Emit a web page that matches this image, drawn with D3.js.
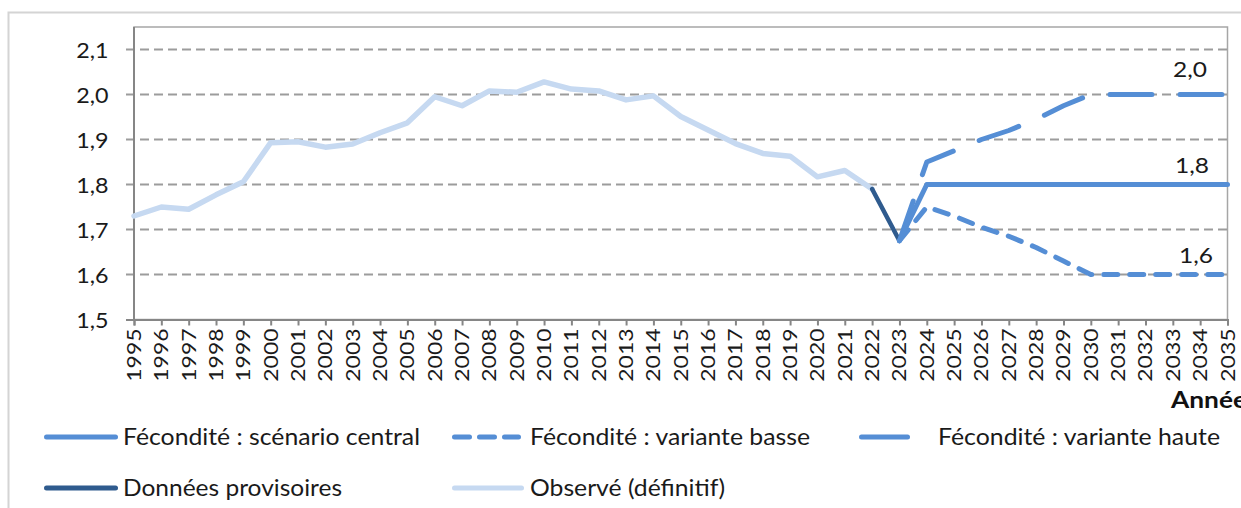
<!DOCTYPE html>
<html>
<head>
<meta charset="utf-8">
<script src="https://cdn.jsdelivr.net/npm/d3@7"></script>
<style>
  body { margin: 0; background: #fff; }
  svg { display: block; font-family: Lato, 'Open Sans', sans-serif; }
</style>
</head>
<body>
<div id="chart"></div>
<script>
// data
const years = d3.range(1995, 2036)
const observedYears = d3.range(1995, 2023)
const observed = [1.73, 1.75, 1.745, 1.777, 1.806, 1.893, 1.895, 1.883, 1.89, 1.915, 1.937, 1.995,
  1.975, 2.008, 2.005, 2.028, 2.012, 2.008, 1.988, 1.997, 1.951, 1.921, 1.891, 1.869, 1.863, 1.817, 1.831, 1.79]
const provisoireYears = [2022, 2023]
const provisoire = [1.79, 1.675]
const projYears = d3.range(2023, 2036)
const central = [1.675, 1.8, 1.8, 1.8, 1.8, 1.8, 1.8, 1.8, 1.8, 1.8, 1.8, 1.8, 1.8]
const basse = [1.675, 1.75, 1.73, 1.705, 1.685, 1.66, 1.63, 1.6, 1.6, 1.6, 1.6, 1.6, 1.6]
const haute = [1.675, 1.85, 1.875, 1.9, 1.92, 1.945, 1.975, 2.0, 2.0, 2.0, 2.0, 2.0, 2.0]
const yTicks = [1.5, 1.6, 1.7, 1.8, 1.9, 2.0, 2.1]
const endLabels = [
  { value: 2.0, text: '2,0' },
  { value: 1.8, text: '1,8' },
  { value: 1.6, text: '1,6' }
]
const legendItems = [
  { key: 'central', label: 'Fécondité : scénario central' },
  { key: 'basse', label: 'Fécondité : variante basse' },
  { key: 'haute', label: 'Fécondité : variante haute' },
  { key: 'provisoire', label: 'Données provisoires' },
  { key: 'observed', label: 'Observé (définitif)' }
]

const width = 1241
const height = 508
const margin = { top: 27, left: 134, right: 13.5, bottom: 188.5 }

const blue = '#558ed5'
const styles = {
  observed: { color: '#c6d9f1', width: 5.5, dash: null },
  provisoire: { color: '#2f5b8e', width: 4.5, dash: null },
  central: { color: blue, width: 5, dash: null },
  basse: { color: blue, width: 5, dash: '14 12' },
  haute: { color: blue, width: 5, dash: '42 28' }
}

let svg = d3
  .select('#chart')
  .append('svg')
  .attr('width', width)
  .attr('height', height)

// chart area frame
svg
  .append('rect')
  .attr('x', 8.5)
  .attr('y', 12.5)
  .attr('width', 1400)
  .attr('height', 700)
  .attr('fill', 'none')
  .attr('stroke', '#d4d4d4')
  .attr('stroke-width', 2)

let x = d3.scaleLinear().domain([1995, 2035]).range([margin.left, width - margin.right])
let y = d3.scaleLinear().domain([1.5, 2.1]).range([height - margin.bottom, 49.5])

// plot area border
svg
  .append('rect')
  .attr('x', margin.left)
  .attr('y', margin.top)
  .attr('width', x(2035) - margin.left)
  .attr('height', y(1.5) - margin.top)
  .attr('fill', 'none')
  .attr('stroke', '#a6a6a6')
  .attr('stroke-width', 1.5)

// gridlines
svg
  .selectAll('.grid')
  .data(yTicks.filter(d => d > 1.5))
  .enter()
  .append('line')
  .attr('class', 'grid')
  .attr('x1', margin.left - 8)
  .attr('x2', x(2035))
  .attr('y1', d => y(d))
  .attr('y2', d => y(d))
  .attr('stroke', '#9c9c9c')
  .attr('stroke-width', 2)
  .attr('stroke-dasharray', '9 5')

// y axis
let yAxis = svg
  .append('g')
  .attr('transform', `translate(${margin.left},0)`)
  .call(d3.axisLeft(y).tickValues(yTicks).tickSize(8).tickPadding(16)
    .tickFormat(d => d3.format('.1f')(d).replace('.', ',')))
yAxis.select('.domain').attr('stroke', '#868686').attr('stroke-width', 2)
  .attr('d', `M0,${margin.top}V${y(1.5)}`)
yAxis.selectAll('.tick line').attr('stroke', d => d === 1.5 ? '#868686' : 'none').attr('stroke-width', 2)
yAxis.selectAll('.tick text')
  .attr('font-family', 'Lato, sans-serif')
  .attr('font-size', 22)
  .attr('fill', '#1a1a1a')
  .attr('dy', '0.36em')
  .attr('transform', 'scale(1.06,1)')

// x axis
let xAxis = svg
  .append('g')
  .attr('transform', `translate(0,${y(1.5)})`)
  .call(d3.axisBottom(x).tickValues(years).tickSize(6).tickFormat(d3.format('d')))
xAxis.select('.domain').attr('stroke', '#868686').attr('stroke-width', 2)
xAxis.selectAll('.tick line').attr('stroke', '#868686').attr('stroke-width', 2)
xAxis.selectAll('.tick text')
  .attr('font-family', 'Lato, sans-serif')
  .attr('font-size', 18.5)
  .attr('fill', '#1a1a1a')
  .attr('text-anchor', 'end')
  .attr('dy', null)
  .attr('y', 0)
  .attr('transform', 'translate(6.5,9) rotate(-90) scale(1.24,1)')

svg
  .append('text')
  .text('Année')
  .attr('x', 1171)
  .attr('y', 408)
  .attr('font-weight', 'bold')
  .attr('font-size', 22)
  .attr('textLength', 76)
  .attr('lengthAdjust', 'spacingAndGlyphs')
  .attr('fill', '#111')

// series
let line = d3.line().x(d => x(d[0])).y(d => y(d[1]))

let series = [
  { key: 'observed', points: d3.zip(observedYears, observed) },
  { key: 'provisoire', points: d3.zip(provisoireYears, provisoire) },
  { key: 'basse', points: d3.zip(projYears, basse) },
  { key: 'haute', points: d3.zip(projYears, haute) },
  { key: 'central', points: d3.zip(projYears, central) }
]

svg
  .selectAll('.series')
  .data(series)
  .enter()
  .append('path')
  .attr('class', 'series')
  .attr('d', d => line(d.points))
  .attr('fill', 'none')
  .attr('stroke', d => styles[d.key].color)
  .attr('stroke-width', d => styles[d.key].width)
  .attr('stroke-dasharray', d => styles[d.key].dash)
  .attr('stroke-linecap', 'round')
  .attr('stroke-linejoin', 'round')

// end labels
svg
  .selectAll('.end-label')
  .data(endLabels)
  .enter()
  .append('text')
  .attr('class', 'end-label')
  .text(d => d.text)
  .attr('x', d => d.value === 1.6 ? 1213 : (d.value === 2.0 ? 1207 : 1209))
  .attr('y', d => y(d.value) - (d.value === 2.0 ? 18 : 12))
  .attr('text-anchor', 'end')
  .attr('font-size', 22)
  .attr('textLength', 34)
  .attr('lengthAdjust', 'spacingAndGlyphs')
  .attr('fill', '#1a1a1a')

// legend
let legendPos = [
  { lx: 44, lw: 74, tx: 123, ty: 437, tw: 297 },
  { lx: 452, lw: 69, tx: 530, ty: 437, tw: 280 },
  { lx: 859, lw: 51, tx: 938, ty: 437, tw: 282 },
  { lx: 44, lw: 74, tx: 123, ty: 488, tw: 219 },
  { lx: 452, lw: 72, tx: 530, ty: 488, tw: 195 }
]

let legend = svg
  .selectAll('.legend-entry')
  .data(legendItems)
  .enter()
  .append('g')
  .attr('class', 'legend-entry')
  .each(function(d, i) {
    let g = d3.select(this)
    let p = legendPos[i]
    let s = styles[d.key]
    g.append('line')
      .attr('x1', p.lx + 2.5)
      .attr('x2', p.lx + p.lw - 2.5)
      .attr('y1', p.ty)
      .attr('y2', p.ty)
      .attr('stroke', s.color)
      .attr('stroke-width', 5)
      .attr('stroke-linecap', 'round')
      .attr('stroke-dasharray', d.key === 'basse' ? '15 10' : null)
    g.append('text')
      .text(d.label)
      .attr('x', p.tx)
      .attr('y', p.ty + 7.5)
      .attr('font-size', 22.5)
      .attr('textLength', p.tw)
      .attr('lengthAdjust', 'spacingAndGlyphs')
      .attr('fill', '#1a1a1a')
  })
</script>
</body>
</html>
